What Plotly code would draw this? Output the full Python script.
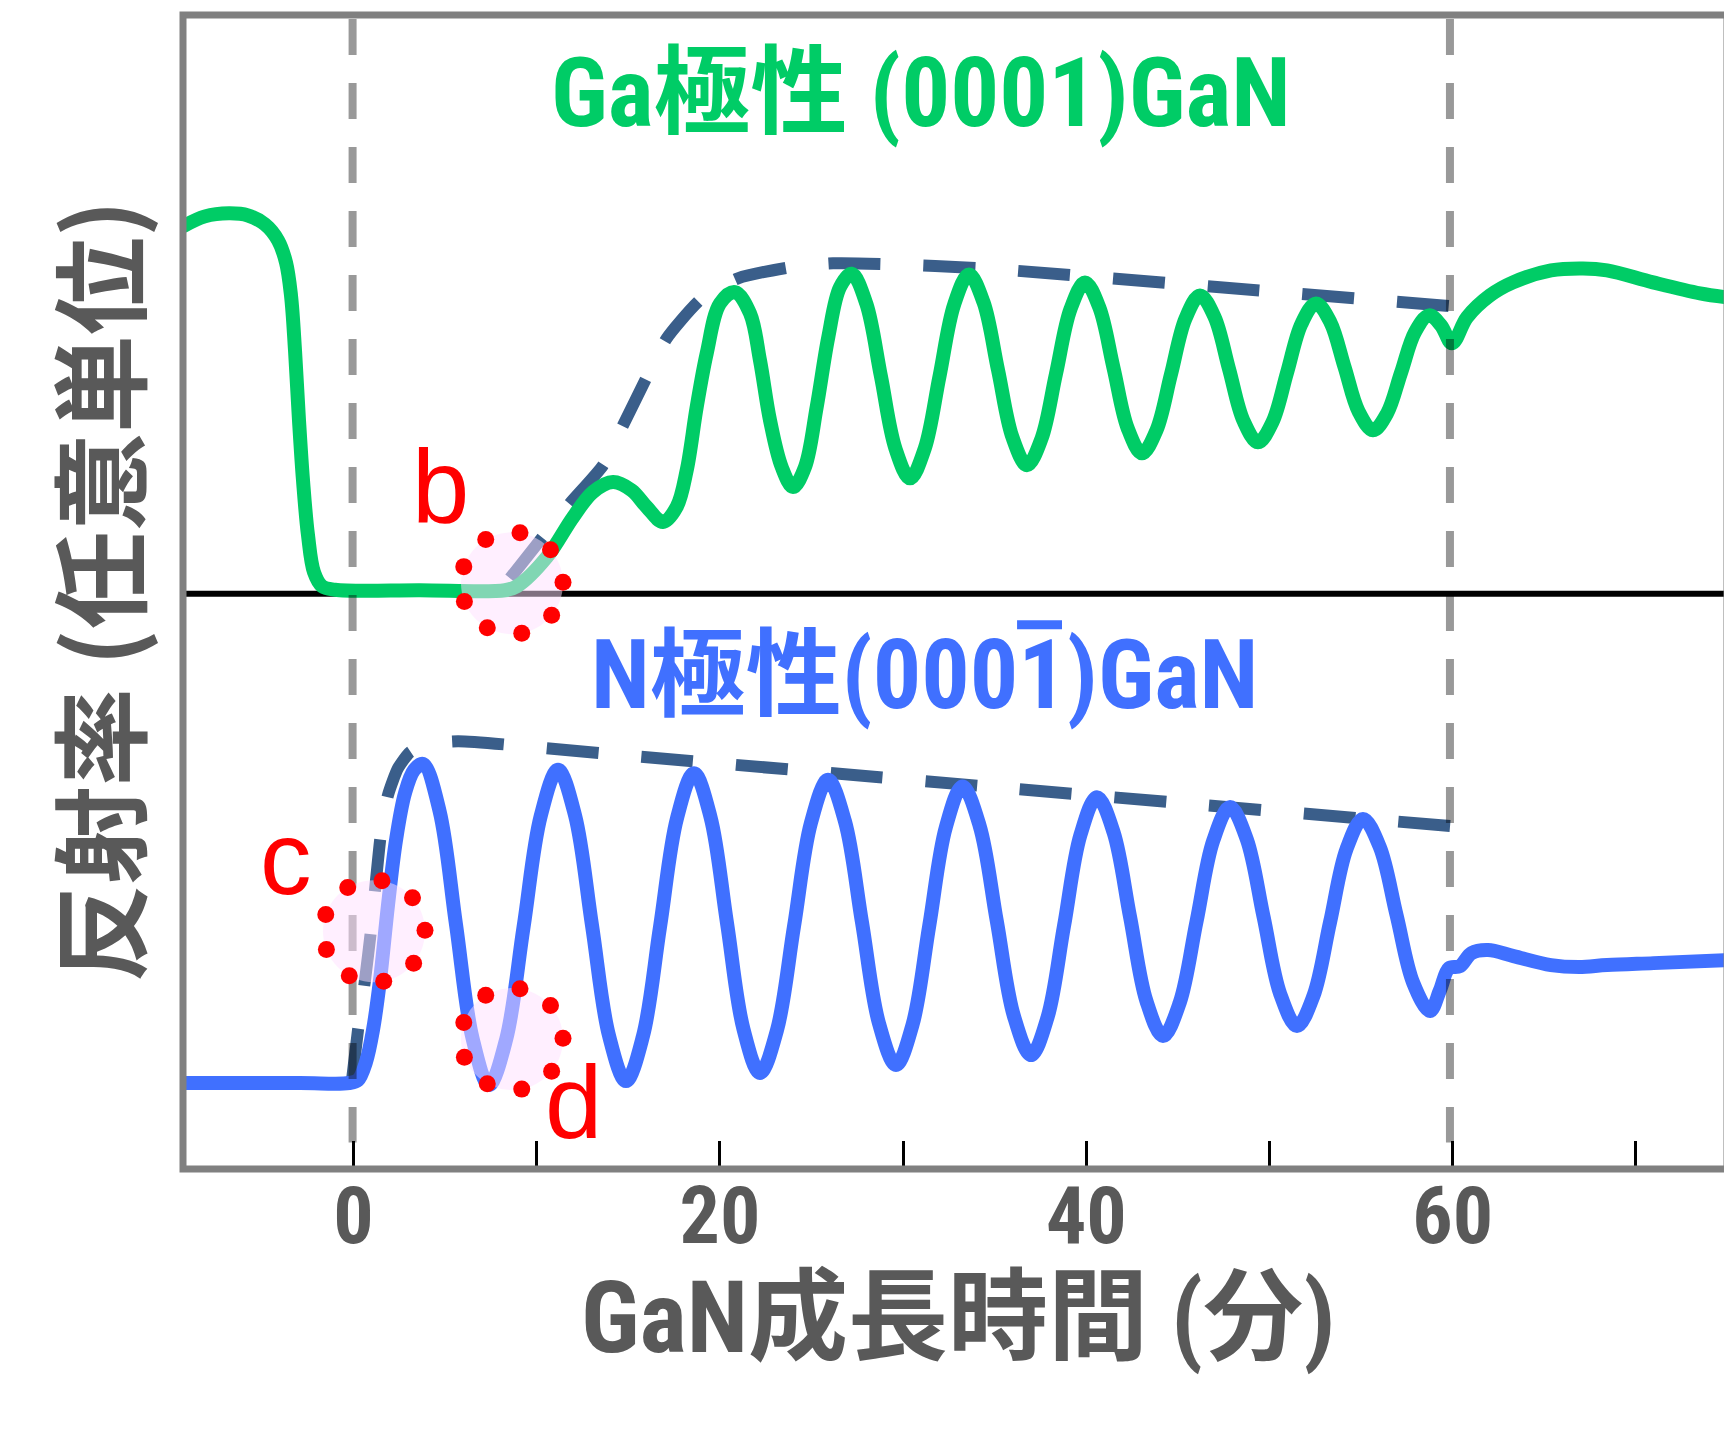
import numpy as np
import plotly.graph_objects as go

# ---------------- data (x: minutes, y: reflectance, arbitrary units 0..100) ----------------
X_RANGE = [-9.307, 74.973]
Y_RANGE = [0, 100]
X_TICKS = [0, 10, 20, 30, 40, 50, 60, 70]
X_TICK_TEXT = ["0", "", "20", "", "40", "", "60", ""]

GA_X = [-9.307, -8.106, -6.796, -5.759, -4.831, -4.121, -3.684, -3.412, -3.193, -2.975,
        -2.757, -2.484, -2.156, -1.719, -1.010, 3.630, 8.270, 8.925, 10.562, 11.981,
        13.073, 14.165, 15.186, 16.004, 16.894, 17.642, 18.188, 18.734, 19.280, 20.006,
        20.824, 21.643, 22.189, 22.735, 23.373, 23.990, 24.645, 25.284, 25.917, 26.556,
        27.194, 27.990, 28.786, 29.581, 30.377, 31.182, 31.987, 32.792, 33.597, 34.389,
        35.180, 35.972, 36.763, 37.555, 38.346, 39.138, 39.929, 40.707, 41.485, 42.262,
        43.040, 43.832, 44.623, 45.415, 46.206, 46.998, 47.789, 48.581, 49.372, 50.164,
        50.955, 51.747, 52.538, 53.316, 54.094, 54.871, 55.649, 56.413, 57.178, 57.942,
        58.706, 59.361, 59.962, 60.780, 62.036, 63.292, 65.366, 67.113, 68.423, 70.934,
        73.500, 74.973]
GA_Y = [81.68, 82.55, 82.81, 82.63, 81.85, 80.47, 78.56, 75.70, 70.94, 64.88,
        59.68, 54.92, 51.71, 50.50, 50.20, 50.15, 50.15, 50.50, 53.04, 56.47,
        58.67, 59.53, 58.81, 57.37, 56.07, 57.37, 60.55, 66.03, 70.68, 75.01,
        75.99, 74.15, 70.07, 64.88, 60.83, 59.10, 60.83, 66.03, 72.09, 76.42,
        77.58, 74.99, 68.72, 62.44, 59.85, 62.43, 68.69, 74.94, 77.52, 75.11,
        69.25, 63.39, 60.98, 63.29, 68.91, 74.52, 76.83, 74.67, 69.43, 64.18,
        62.02, 64.02, 68.86, 73.70, 75.70, 73.84, 69.34, 64.83, 62.97, 64.73,
        68.99, 73.25, 75.01, 73.40, 69.51, 65.62, 64.01, 65.46, 68.99, 72.52,
        73.97, 73.11, 71.55, 73.80, 75.70, 76.83, 77.87, 78.04, 77.87, 76.83,
        75.88, 75.53]

GA_ENV_X = [8.543, 10.273, 11.818, 13.619, 14.711, 16.004, 17.096, 19.007, 20.988, 23.919,
            26.174, 28.739, 34.416, 47.298, 60.672]
GA_ENV_Y = [51.19, 54.66, 57.69, 60.98, 64.44, 68.60, 71.98, 75.44, 77.18, 78.16,
            78.48, 78.43, 78.04, 76.40, 74.67]

N_X = [-9.307, -2.920, -0.246, 0.246, 0.682, 1.064, 1.447, 1.883, 2.320, 2.811,
       3.302, 3.794, 4.695, 5.595, 6.496, 7.396, 8.338, 9.280, 10.221, 11.163,
       12.091, 13.019, 13.946, 14.874, 15.802, 16.730, 17.658, 18.586, 19.487, 20.388,
       21.288, 22.189, 23.117, 24.045, 24.973, 25.901, 26.829, 27.757, 28.684, 29.612,
       30.520, 31.427, 32.335, 33.242, 34.177, 35.112, 36.046, 36.981, 37.882, 38.783,
       39.683, 40.584, 41.485, 42.386, 43.286, 44.187, 45.101, 46.016, 46.930, 47.844,
       48.758, 49.673, 50.587, 51.501, 52.402, 53.303, 54.203, 55.104, 56.018, 56.933,
       57.847, 58.761, 59.307, 59.798, 60.399, 61.027, 61.928, 63.320, 65.366, 66.895,
       68.423, 70.966, 74.973]
N_Y = [7.45, 7.45, 7.45, 7.71, 9.27, 12.04, 16.37, 22.87, 28.50, 32.57,
       34.56, 35.10, 31.04, 21.19, 11.34, 7.28, 11.27, 20.94, 30.60, 34.59,
       30.65, 21.11, 11.56, 7.62, 11.52, 20.96, 30.40, 34.30, 30.51, 21.31,
       12.11, 8.32, 12.03, 21.02, 30.01, 33.72, 30.11, 21.37, 12.62, 9.01,
       12.53, 21.08, 29.63, 33.15, 29.75, 21.51, 13.27, 9.87, 13.13, 21.05,
       28.96, 32.22, 29.20, 21.87, 14.54, 11.52, 14.42, 21.44, 28.46, 31.36,
       28.59, 21.88, 15.16, 12.39, 15.01, 21.37, 27.72, 30.34, 27.91, 22.02,
       16.12, 13.69, 15.50, 17.41, 17.58, 18.71, 18.97, 18.45, 17.67, 17.50,
       17.67, 17.84, 18.10]

N_ENV_X = [-0.082, 0.246, 0.628, 0.955, 1.228, 1.501, 1.883, 2.429, 3.084, 4.067,
           5.704, 13.455, 35.289, 61.165]
N_ENV_Y = [7.71, 12.04, 16.37, 20.70, 25.03, 29.10, 32.40, 34.73, 36.12, 36.81,
           37.07, 36.03, 33.05, 29.54]

BASELINE_Y = 49.85            # black separator line
VLINES_X = [-0.05, 59.85]     # growth start / end
VLINE_Y = [99.65, 2.3]

# annotation rings (b, c, d)
RING_X = [8.652, 1.119, 8.652]
RING_Y = [50.76, 20.61, 11.26]
RING_LABELS = ["b", "c", "d"]
LABEL_X = [4.76, -3.685, 12.01]
LABEL_Y = [59.16, 26.93, 5.72]
DOT_ANGLES_DEG = [-1, 39, 79, 119, 159, 199, 239, 279, 319]

# ---------------- styling ----------------
GREEN = "#00CC66"
BLUE = "#4070FF"
ENV = "#3A5E8A"
GRAY_TXT = "#595959"
NARROW = "Roboto Condensed, Noto Sans CJK JP, sans-serif"
CJK = "Noto Sans CJK JP, sans-serif"

fig = go.Figure()

fig.add_trace(go.Scatter(x=X_RANGE, y=[BASELINE_Y, BASELINE_Y], mode="lines",
                         line=dict(color="black", width=6), hoverinfo="skip"))
fig.add_trace(go.Scatter(x=GA_ENV_X, y=GA_ENV_Y, mode="lines",
                         line=dict(color=ENV, width=12, dash="52px,43px", shape="spline", smoothing=0.6),
                         hoverinfo="skip"))
fig.add_trace(go.Scatter(x=N_ENV_X, y=N_ENV_Y, mode="lines",
                         line=dict(color=ENV, width=12, dash="52px,43px", shape="spline", smoothing=0.6),
                         hoverinfo="skip"))
fig.add_trace(go.Scatter(x=GA_X, y=GA_Y, mode="lines",
                         line=dict(color=GREEN, width=14, shape="spline", smoothing=1.0),
                         hoverinfo="skip"))
fig.add_trace(go.Scatter(x=N_X, y=N_Y, mode="lines",
                         line=dict(color=BLUE, width=14, shape="spline", smoothing=1.0),
                         hoverinfo="skip"))
for vx in VLINES_X:
    fig.add_trace(go.Scatter(x=[vx, vx], y=VLINE_Y, mode="lines",
                             line=dict(color="rgba(0,0,0,0.4)", width=8, dash="36px,28px"),
                             hoverinfo="skip"))

shapes = []
R_RING = 51
R_DOT = 8.5
for cx, cy in zip(RING_X, RING_Y):
    shapes.append(dict(type="circle", xref="x", yref="y", xsizemode="pixel", ysizemode="pixel",
                       xanchor=cx, yanchor=cy, x0=-R_RING, x1=R_RING, y0=-R_RING, y1=R_RING,
                       fillcolor="rgba(255,224,255,0.5)", line=dict(width=0), layer="above"))
    for a in np.deg2rad(DOT_ANGLES_DEG):
        dx = R_RING * np.cos(a)
        dy = -R_RING * np.sin(a)
        shapes.append(dict(type="circle", xref="x", yref="y", xsizemode="pixel", ysizemode="pixel",
                           xanchor=cx, yanchor=cy, x0=dx - R_DOT, x1=dx + R_DOT,
                           y0=dy - R_DOT, y1=dy + R_DOT,
                           fillcolor="#FF0000", line=dict(width=0), layer="above"))
# frame
shapes.append(dict(type="rect", xref="paper", yref="paper", x0=0, x1=1, y0=0, y1=1,
                   line=dict(color="#808080", width=7), layer="above"))
# overbar on the last "1" of (000-1)
shapes.append(dict(type="line", xref="paper", yref="paper", x0=0.5402, x1=0.5693, y0=0.4716, y1=0.4716,
                   line=dict(color=BLUE, width=9), layer="above"))

annotations = [
    dict(text="Ga極性 (0001)GaN", x=0.478, y=0.9324, xref="paper", yref="paper",
         showarrow=False, xanchor="center", yanchor="middle",
         font=dict(family=NARROW, size=97, color=GREEN, weight="bold")),
    dict(text="N極性(0001)GaN", x=0.480, y=0.4279, xref="paper", yref="paper",
         showarrow=False, xanchor="center", yanchor="middle",
         font=dict(family=NARROW, size=96, color=BLUE, weight="bold")),
    dict(text="GaN成長時間 (分)", x=0.502, y=-0.1295, xref="paper", yref="paper",
         showarrow=False, xanchor="center", yanchor="middle", height=116, valign="bottom",
         font=dict(family=NARROW, size=100, color=GRAY_TXT, weight="bold")),
    dict(text="反射率 (任意単位)", x=-0.057, y=0.5007, xref="paper", yref="paper",
         showarrow=False, xanchor="center", yanchor="middle", textangle=-90,
         font=dict(family=CJK, size=98, color=GRAY_TXT, weight="bold")),
]
for lab, lx, ly in zip(RING_LABELS, LABEL_X, LABEL_Y):
    annotations.append(dict(text=lab, x=lx, y=ly, xref="x", yref="y", showarrow=False,
                            xanchor="center", yanchor="middle",
                            font=dict(family="Liberation Sans, Arial, sans-serif", size=103, color="#FF0000")))

# the page body keeps an 8 px margin, so the figure is drawn 8 px smaller and shifted
fig.update_layout(
    width=1724, height=1422,
    margin=dict(l=175, r=5, t=6.5, b=261, pad=0),
    paper_bgcolor="white", plot_bgcolor="white",
    showlegend=False,
    shapes=shapes, annotations=annotations,
    xaxis=dict(range=X_RANGE, showgrid=False, zeroline=False, showline=False,
               ticks="inside", ticklen=28, tickwidth=2.5, tickcolor="black",
               tickvals=X_TICKS, ticktext=X_TICK_TEXT, ticklabelstandoff=-7,
               tickfont=dict(family=NARROW, size=80, color=GRAY_TXT, weight="bold")),
    yaxis=dict(range=Y_RANGE, visible=False),
)

fig.write_html("out.html")
